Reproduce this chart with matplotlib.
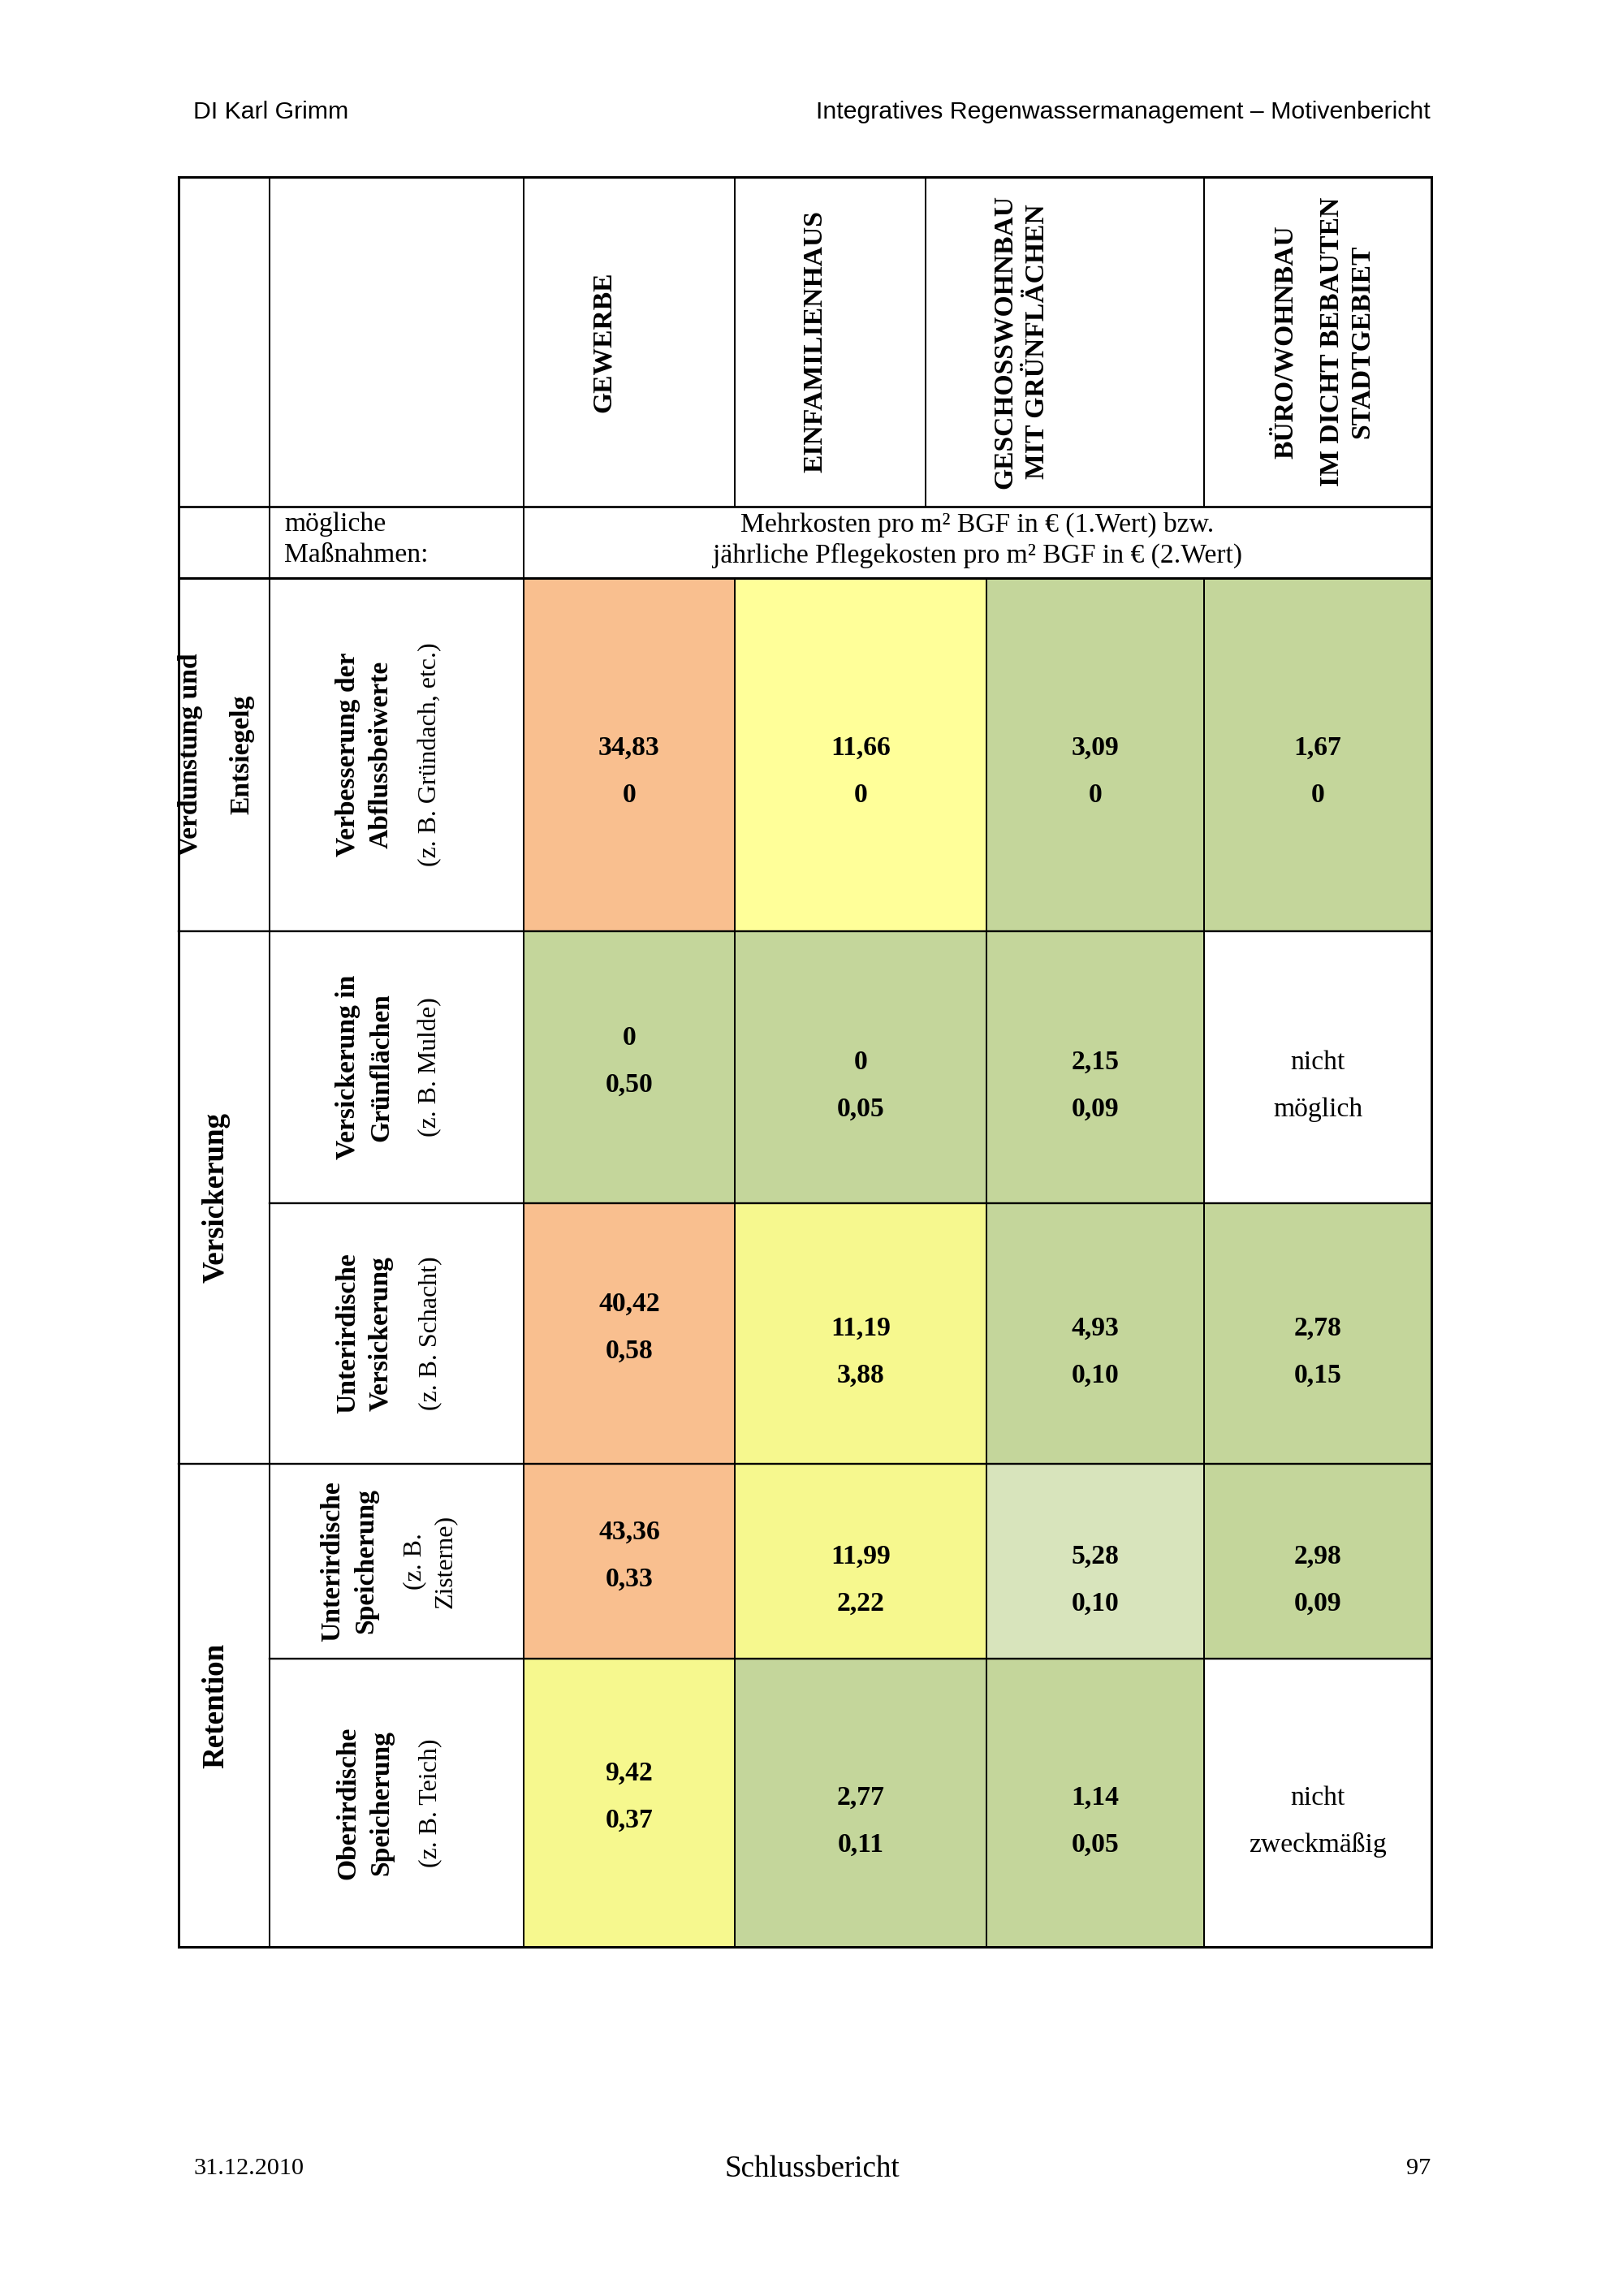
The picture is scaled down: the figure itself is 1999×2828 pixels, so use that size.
import matplotlib.pyplot as plt
from matplotlib.patches import Rectangle

# Daten
gruppen = ['Verdunstung und\nEntsiegelg', 'Versickerung', 'Retention']
gruppen_zeilen = [(0, 1), (1, 3), (3, 5)]
massnahmen_fett = [['Verbesserung der', 'Abflussbeiwerte'],
                   ['Versickerung in', 'Grünflächen'],
                   ['Unterirdische', 'Versickerung'],
                   ['Unterirdische', 'Speicherung'],
                   ['Oberirdische', 'Speicherung']]
massnahmen_bsp = [['(z. B. Gründach, etc.)'],
                  ['(z. B. Mulde)'],
                  ['(z. B. Schacht)'],
                  ['(z. B.', 'Zisterne)'],
                  ['(z. B. Teich)']]
gebaeude = [['GEWERBE'],
            ['EINFAMILIENHAUS'],
            ['GESCHOSSWOHNBAU', 'MIT GRÜNFLÄCHEN'],
            ['BÜRO/WOHNBAU', 'IM DICHT BEBAUTEN', 'STADTGEBIET']]
mehrkosten = [[34.83, 11.66, 3.09, 1.67],
              [0, 0, 2.15, None],
              [40.42, 11.19, 4.93, 2.78],
              [43.36, 11.99, 5.28, 2.98],
              [9.42, 2.77, 1.14, None]]
pflegekosten = [[0, 0, 0, 0],
                [0.50, 0.05, 0.09, None],
                [0.58, 3.88, 0.10, 0.15],
                [0.33, 2.22, 0.10, 0.09],
                [0.37, 0.11, 0.05, None]]
hinweis = {(1, 3): ('nicht', 'möglich'), (4, 3): ('nicht', 'zweckmäßig')}
bewertung = [['hoch', 'mittel+', 'gering', 'gering'],
             ['gering', 'gering', 'gering', 'keine'],
             ['hoch', 'mittel', 'gering', 'gering'],
             ['hoch', 'mittel', 'maessig', 'gering'],
             ['mittel', 'gering', 'gering', 'keine']]

farben = {'hoch': '#F9BF8F', 'mittel+': '#FFFF99', 'mittel': '#F6F88E',
          'gering': '#C4D69B', 'maessig': '#D8E4BC', 'keine': 'white'}

# Layout (Pixel)
W, H = 2000, 2828
x_links, x_gr, x_mass, x_rechts = 220, 332, 645, 1763
x_daten = [645, 905, 1215, 1483, 1763]
x_kopf = [645, 905, 1140, 1483, 1763]
kopf_dx = [[98], [99], [97, 138], [100, 158, 195]]
y_oben, y_kopf, y_sub = 218, 624, 712
y_zeilen = [712, 1147, 1482, 1803, 2043, 2398]

serif = 'Liberation Serif'
fs = 10

fig = plt.figure(figsize=(W / 242, H / 242), dpi=242)
ax = fig.add_axes([0, 0, 1, 1])
ax.set_xlim(0, W)
ax.set_ylim(H, 0)
ax.axis('off')


def fmt(v):
    if v == 0:
        return '0'
    return f'{v:.2f}'.replace('.', ',')


def linie(x0, y0, x1, y1, lw=0.6):
    ax.plot([x0, x1], [y0, y1], color='black', lw=lw, solid_capstyle='projecting')


# Zellen einfärben
for i in range(5):
    for j in range(4):
        ax.add_patch(Rectangle((x_daten[j], y_zeilen[i]), x_daten[j + 1] - x_daten[j],
                               y_zeilen[i + 1] - y_zeilen[i],
                               facecolor=farben[bewertung[i][j]], edgecolor='none'))

# Gitter
linie(x_links, y_oben, x_rechts, y_oben, 0.9)
linie(x_links, y_zeilen[-1], x_rechts, y_zeilen[-1], 0.9)
linie(x_links, y_oben, x_links, y_zeilen[-1], 0.9)
linie(x_rechts, y_oben, x_rechts, y_zeilen[-1], 0.9)
linie(x_links, y_kopf, x_rechts, y_kopf, 0.8)
linie(x_links, y_sub, x_rechts, y_sub, 0.9)
for x in [x_gr, x_mass]:
    linie(x, y_oben, x, y_zeilen[-1])
for x in x_kopf[1:-1]:
    linie(x, y_oben, x, y_kopf)
for x in x_daten[1:-1]:
    linie(x, y_sub, x, y_zeilen[-1])
for k, y in enumerate(y_zeilen[1:-1], start=1):
    x0 = x_links if k in (1, 3) else x_gr
    linie(x0, y, x_rechts, y, 0.7)

# Kopfzeile: Gebäudetypen
for j, zeilen in enumerate(gebaeude):
    for k, t in enumerate(zeilen):
        ax.text(x_kopf[j] + kopf_dx[j][k], 421, t, rotation=90, ha='center', va='center',
                family=serif, fontweight='bold', fontsize=fs)

# Unterzeile
ax.text(350, 646, 'mögliche', ha='left', va='center', family=serif, fontsize=fs)
ax.text(350, 684, 'Maßnahmen:', ha='left', va='center', family=serif, fontsize=fs)
xm = (x_mass + x_rechts) / 2
ax.text(xm, 646, 'Mehrkosten pro m² BGF in € (1.Wert) bzw.', ha='center', va='center',
        family=serif, fontsize=fs)
ax.text(xm, 684, 'jährliche Pflegekosten pro m² BGF in € (2.Wert)', ha='center', va='center',
        family=serif, fontsize=fs)

# Gruppen
for g, (a, b) in zip(gruppen, gruppen_zeilen):
    yc = (y_zeilen[a] + y_zeilen[b]) / 2
    zeilen = g.split('\n')
    gfs = 11 if len(zeilen) == 1 else fs
    n = len(zeilen)
    for k, t in enumerate(zeilen):
        ax.text(266 + (k - (n - 1) / 2) * 63, yc, t, rotation=90, ha='center', va='center',
                family=serif, fontweight='bold', fontsize=gfs)

# Maßnahmen
for i in range(5):
    yc = (y_zeilen[i] + y_zeilen[i + 1]) / 2
    xs = []
    x = 0
    for k in range(len(massnahmen_fett[i])):
        xs.append(x)
        x += 41
    x += 19
    for k in range(len(massnahmen_bsp[i])):
        xs.append(x)
        x += 38
    span = xs[-1] - xs[0]
    x0 = 479 - span / 2
    texte = [(t, 'bold') for t in massnahmen_fett[i]] + [(t, 'normal') for t in massnahmen_bsp[i]]
    for (t, w), dx in zip(texte, xs):
        ax.text(x0 + dx, yc, t, rotation=90, ha='center', va='center',
                family=serif, fontweight=w, fontsize=fs if w == 'bold' else 9.5)

# Werte
for i in range(5):
    yc = (y_zeilen[i] + y_zeilen[i + 1]) / 2
    for j in range(4):
        xc = (x_daten[j] + x_daten[j + 1]) / 2
        if i == 0:
            dy = 21
        else:
            dy = -7 if j == 0 else 23
        if mehrkosten[i][j] is None:
            t1, t2 = hinweis[(i, j)]
            w = 'normal'
        else:
            t1, t2 = fmt(mehrkosten[i][j]), fmt(pflegekosten[i][j])
            w = 'bold'
        ax.text(xc, yc + dy - 29, t1, ha='center', va='center', family=serif,
                fontweight=w, fontsize=fs)
        ax.text(xc, yc + dy + 29, t2, ha='center', va='center', family=serif,
                fontweight=w, fontsize=fs)

# Kopf- und Fußzeile der Seite
ax.text(238, 138, 'DI Karl Grimm', ha='left', va='center', family='Liberation Sans', fontsize=9)
ax.text(1762, 138, 'Integratives Regenwassermanagement – Motivenbericht', ha='right',
        va='center', family='Liberation Sans', fontsize=9)
ax.text(238, 2671, '31.12.2010', ha='left', va='center', family=serif, fontsize=9)
ax.text(1000, 2672, 'Schlussbericht', ha='center', va='center', family=serif, fontsize=11)
ax.text(1762, 2671, '97', ha='right', va='center', family=serif, fontsize=9)

fig.savefig('out.png', dpi=242, facecolor='white')
